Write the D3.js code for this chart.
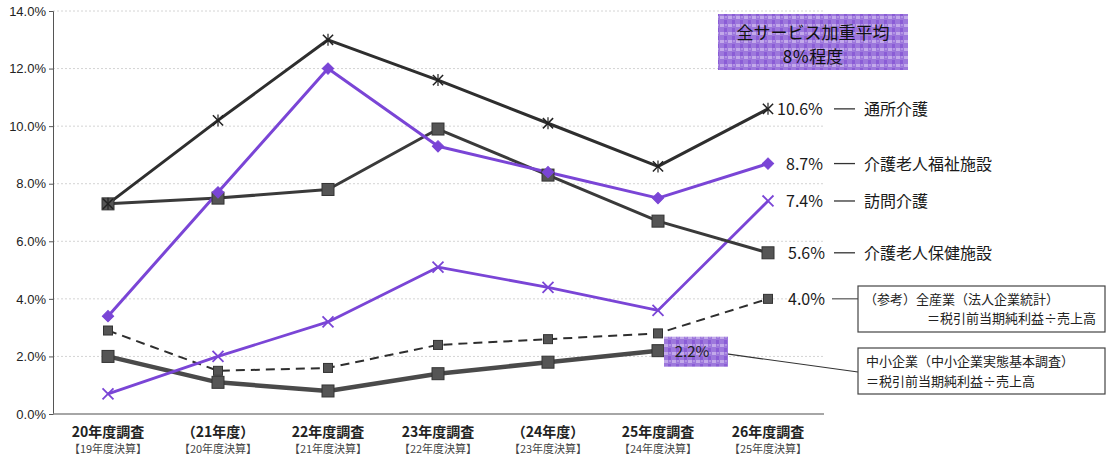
<!DOCTYPE html>
<html>
<head>
<meta charset="utf-8">
<script src="https://cdn.jsdelivr.net/npm/d3@7"></script>
<style>
  body { margin: 0; background: #fff; }
  svg { font-family: "Noto Sans CJK JP", "Noto Sans", sans-serif; }
</style>
</head>
<body>
<svg id="chart"></svg>
<script>
// categories and tick labels
const years = ['20年度調査', '（21年度）', '22年度調査', '23年度調査', '（24年度）', '25年度調査', '26年度調査'];
const yearsSub = ['【19年度決算】', '【20年度決算】', '【21年度決算】', '【22年度決算】', '【23年度決算】', '【24年度決算】', '【25年度決算】'];
const yTicks = [0, 2, 4, 6, 8, 10, 12, 14];

// series values (%)
const tsusho = [7.3, 10.2, 13.0, 11.6, 10.1, 8.6, 10.6];
const fukushi = [3.4, 7.7, 12.0, 9.3, 8.4, 7.5, 8.7];
const homon = [0.7, 2.0, 3.2, 5.1, 4.4, 3.6, 7.4];
const hoken = [7.3, 7.5, 7.8, 9.9, 8.3, 6.7, 5.6];
const zensangyo = [2.9, 1.5, 1.6, 2.4, 2.6, 2.8, 4.0];
const chusho = [2.0, 1.1, 0.8, 1.4, 1.8, 2.2];

const seriesNames = ['通所介護', '介護老人福祉施設', '訪問介護', '介護老人保健施設'];

const W = 1110, H = 457;
const margin = { top: 11, right: 287, bottom: 43, left: 53 };
const purple = '#7a45d6';
const dark = '#3a3a3a';

const svg = d3.select('#chart').attr('width', W).attr('height', H);

const x = d3.scalePoint().domain(d3.range(years.length))
  .range([margin.left, W - margin.right]).padding(0.5);
const y = d3.scaleLinear().domain([0, 14]).range([H - margin.bottom, margin.top]);

// texture pattern for purple boxes
const defs = svg.append('defs');
const pat = defs.append('pattern').attr('id', 'tex')
  .attr('width', 8).attr('height', 8).attr('patternUnits', 'userSpaceOnUse');
pat.append('rect').attr('width', 8).attr('height', 8).attr('fill', '#9d78dc');
pat.append('rect').attr('x', 0).attr('y', 0).attr('width', 4).attr('height', 3).attr('fill', '#c2a9ea');
pat.append('rect').attr('x', 4).attr('y', 4).attr('width', 3).attr('height', 4).attr('fill', '#8a5cd6');
pat.append('rect').attr('x', 5).attr('y', 0).attr('width', 2).attr('height', 2).attr('fill', '#b293e4');

// grid
svg.append('g').selectAll('line').data(yTicks.filter(d => d > 0)).join('line')
  .attr('x1', margin.left).attr('x2', W - margin.right)
  .attr('y1', d => y(d)).attr('y2', d => y(d))
  .attr('stroke', '#d4d4d4').attr('stroke-dasharray', '2,2');

// axes
const yAxis = svg.append('g').attr('transform', `translate(${margin.left},0)`)
  .call(d3.axisLeft(y).tickValues(yTicks).tickFormat(d => d.toFixed(1) + '%').tickSize(4));
yAxis.select('.domain').attr('stroke', '#555');
yAxis.selectAll('.tick line').attr('stroke', '#555');
yAxis.selectAll('text').attr('font-size', 13).attr('fill', '#222').attr('x', -7)
  .attr('font-family', 'Liberation Sans, Arial, sans-serif');

svg.append('line').attr('x1', margin.left).attr('x2', W - margin.right + 1)
  .attr('y1', y(0)).attr('y2', y(0)).attr('stroke', '#888').attr('stroke-width', 1.5);

const xl = svg.append('g');
xl.selectAll('text.main').data(years).join('text').attr('class', 'main')
  .attr('x', (d, i) => x(i)).attr('y', 437).attr('text-anchor', 'middle')
  .attr('font-size', 14).attr('font-weight', 'bold').attr('fill', '#222').text(d => d);
xl.selectAll('text.sub').data(yearsSub).join('text').attr('class', 'sub')
  .attr('x', (d, i) => x(i)).attr('y', 453).attr('text-anchor', 'middle')
  .attr('font-size', 11).attr('fill', '#444').text(d => d);

const line = d3.line().x((d, i) => x(i)).y(d => y(d));

function drawLine(data, color, width, dash) {
  svg.append('path').datum(data).attr('d', line).attr('fill', 'none')
    .attr('stroke', color).attr('stroke-width', width)
    .attr('stroke-dasharray', dash || null).attr('stroke-linejoin', 'round');
}

// lines
drawLine(chusho, '#4a4a4a', 4.5);
drawLine(zensangyo, '#2e2e2e', 2, '9,6');
drawLine(homon, purple, 2.8);
drawLine(hoken, dark, 3);
drawLine(fukushi, purple, 3);
drawLine(tsusho, '#2e2e2e', 3);

// markers
function squares(data, size, fill) {
  svg.append('g').selectAll('rect').data(data).join('rect')
    .attr('x', (d, i) => x(i) - size / 2).attr('y', d => y(d) - size / 2)
    .attr('width', size).attr('height', size)
    .attr('fill', fill).attr('stroke', '#333').attr('stroke-width', 1);
}
squares(chusho, 12, '#555');
squares(zensangyo, 9, '#555');
squares(hoken, 12, '#555');

svg.append('g').selectAll('path').data(fukushi).join('path')
  .attr('d', d3.symbol(d3.symbolSquare, 64))
  .attr('transform', (d, i) => `translate(${x(i)},${y(d)}) rotate(45)`)
  .attr('fill', purple).attr('stroke', purple);

svg.append('g').selectAll('path').data(homon).join('path')
  .attr('d', d3.symbol(d3.symbolX, 80))
  .attr('transform', (d, i) => `translate(${x(i)},${y(d)})`)
  .attr('fill', 'none').attr('stroke', purple).attr('stroke-width', 1.8);

const star = svg.append('g').selectAll('g').data(tsusho).join('g')
  .attr('transform', (d, i) => `translate(${x(i)},${y(d)})`);
star.append('path').attr('d', d3.symbol(d3.symbolX, 70)).attr('stroke', '#222').attr('stroke-width', 1.5).attr('fill', 'none');
star.append('line').attr('x1', 0).attr('x2', 0).attr('y1', -6).attr('y2', 6).attr('stroke', '#222').attr('stroke-width', 1.2);

// right-side labels
const lastIdx = years.length - 1;
const endLabels = [
  { v: tsusho[lastIdx], name: seriesNames[0], dx: 9 },
  { v: fukushi[lastIdx], name: seriesNames[1], dx: 18 },
  { v: homon[lastIdx], name: seriesNames[2], dx: 18 },
  { v: hoken[lastIdx], name: seriesNames[3], dx: 20 }
];
const el = svg.append('g').selectAll('g').data(endLabels).join('g')
  .attr('transform', d => `translate(${x(lastIdx)},${y(d.v)})`);
el.append('text').attr('x', d => d.dx).attr('y', 6).attr('font-size', 16).attr('fill', '#1a1a1a')
  .text(d => d.v.toFixed(1) + '%');
el.append('line').attr('x1', 66).attr('x2', 87).attr('y1', 0).attr('y2', 0).attr('stroke', '#333').attr('stroke-width', 1.3);
el.append('text').attr('x', 96).attr('y', 6).attr('font-size', 16).attr('fill', '#1a1a1a').text(d => d.name);

// 4.0% label and reference box
const zy = y(zensangyo[lastIdx]);
svg.append('text').attr('x', x(lastIdx) + 20).attr('y', zy + 6).attr('font-size', 16).attr('fill', '#1a1a1a')
  .text(zensangyo[lastIdx].toFixed(1) + '%');
svg.append('line').attr('x1', 832).attr('x2', 858).attr('y1', zy).attr('y2', zy).attr('stroke', '#333');
svg.append('rect').attr('x', 858).attr('y', 286).attr('width', 247).attr('height', 46)
  .attr('fill', '#fff').attr('stroke', '#444').attr('stroke-width', 1.2);
svg.append('text').attr('x', 864).attr('y', 304).attr('font-size', 13).attr('fill', '#222').text('（参考）全産業（法人企業統計）');
svg.append('text').attr('x', 1096).attr('y', 323).attr('text-anchor', 'end').attr('font-size', 13).attr('fill', '#222').text('＝税引前当期純利益÷売上高');

// 2.2% label box and 中小企業 box
const cx = x(chusho.length - 1), cy = y(chusho[chusho.length - 1]);
svg.append('line').attr('x1', cx + 60).attr('y1', cy + 2).attr('x2', 858).attr('y2', 372).attr('stroke', '#333').attr('stroke-width', 1.2);
svg.append('rect').attr('x', cx + 6).attr('y', cy - 14).attr('width', 64).attr('height', 30).attr('fill', 'url(#tex)');
svg.append('text').attr('x', cx + 34).attr('y', cy + 6).attr('text-anchor', 'middle').attr('font-size', 15).attr('fill', '#222')
  .text(chusho[chusho.length - 1].toFixed(1) + '%');
svg.append('rect').attr('x', 858).attr('y', 348).attr('width', 247).attr('height', 46)
  .attr('fill', '#fff').attr('stroke', '#444').attr('stroke-width', 1.2);
svg.append('text').attr('x', 866).attr('y', 366).attr('font-size', 13).attr('fill', '#222').text('中小企業（中小企業実態基本調査）');
svg.append('text').attr('x', 866).attr('y', 386).attr('font-size', 13).attr('fill', '#222').text('＝税引前当期純利益÷売上高');

// average box
svg.append('rect').attr('x', 718).attr('y', 14).attr('width', 190).attr('height', 56).attr('fill', 'url(#tex)');
svg.append('text').attr('x', 813).attr('y', 39).attr('text-anchor', 'middle').attr('font-size', 17).attr('fill', '#111').text('全サービス加重平均');
svg.append('text').attr('x', 813).attr('y', 63).attr('text-anchor', 'middle').attr('font-size', 17).attr('fill', '#111').text('8％程度');
</script>
</body>
</html>
